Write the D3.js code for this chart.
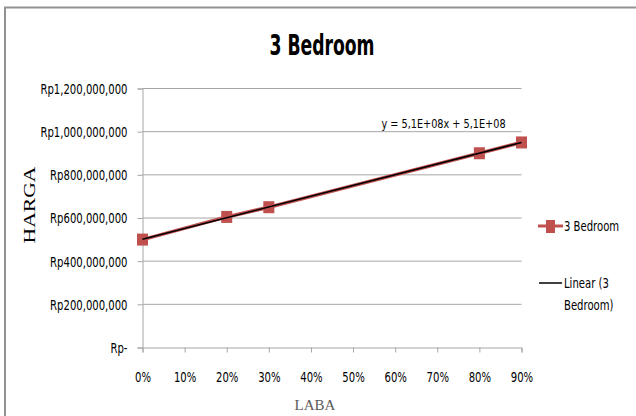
<!DOCTYPE html>
<html><head><meta charset="utf-8">
<script src="https://cdn.jsdelivr.net/npm/d3@7"></script>
<style>
html,body{margin:0;padding:0;background:#fff;}
svg{display:block;}
.cal{font-family:"DejaVu Sans Condensed","DejaVu Sans",sans-serif;font-stretch:condensed;}
</style></head>
<body><svg id="c" width="636" height="416"></svg>
<script>
const title = "3 Bedroom";
const seriesName = "3 Bedroom";
const trendName = ["Linear (3", "Bedroom)"];
const xValues = [0, 0.2, 0.3, 0.8, 0.9];
const yValues = [500000000, 605000000, 650000000, 900000000, 950000000];
const xTicks = [0, 0.1, 0.2, 0.3, 0.4, 0.5, 0.6, 0.7, 0.8, 0.9];
const yTicks = [0, 200000000, 400000000, 600000000, 800000000, 1000000000, 1200000000];
const yTickLabels = ["Rp-", "Rp200,000,000", "Rp400,000,000", "Rp600,000,000", "Rp800,000,000", "Rp1,000,000,000", "Rp1,200,000,000"];
const equationText = "y = 5,1E+08x + 5,1E+08";
const xTitle = "LABA";
const yTitle = "HARGA";

const svg = d3.select("#c");
const red = "#c0504d";
const gridCol = "#a6a6a6";
const sx = 0.83;

// chart frame
svg.append("path").attr("d","M5,416 V7.5 H636").attr("fill","none").attr("stroke","#929292").attr("stroke-width",2);

const x = d3.scaleLinear().domain([0, 0.9]).range([142.5, 521.5]);
const y = d3.scaleLinear().domain([0, 1200000000]).range([347.5, 88.5]);

// gridlines
svg.append("g").selectAll("line").data(yTicks.slice(1)).join("line")
  .attr("x1", x(0)).attr("x2", x(0.9)).attr("y1", d=>y(d)).attr("y2", d=>y(d))
  .attr("stroke", gridCol).attr("stroke-width",1);

// y axis
const yAxis = d3.axisLeft(y).tickValues(yTicks).tickSize(5).tickPadding(10)
  .tickFormat((d,i)=>yTickLabels[i]);
const gy = svg.append("g").attr("transform",`translate(${x(0)},0)`).call(yAxis);
// x axis
const xAxis = d3.axisBottom(x).tickValues(xTicks).tickSize(5).tickPadding(20)
  .tickFormat(d3.format(".0%"));
const gx = svg.append("g").attr("transform",`translate(0,${y(0)})`).call(xAxis);
[gy,gx].forEach(g=>{
  g.select(".domain").attr("stroke",gridCol);
  g.selectAll(".tick line").attr("stroke",gridCol);
  g.selectAll("text").attr("class","cal").attr("font-size",13.5).attr("fill","#000")
    .attr("transform",`scale(${sx},1)`);
});
gy.selectAll("text").attr("x", -15/sx).attr("dy","0.36em");

// series line
const line = d3.line().x((d,i)=>x(xValues[i])).y(d=>y(d));
svg.append("path").datum(yValues).attr("d", line).attr("fill","none").attr("stroke",red).attr("stroke-width",3.5);

// markers
svg.append("g").selectAll("rect").data(yValues).join("rect")
  .attr("x",(d,i)=>x(xValues[i])-5.5).attr("y",d=>y(d)-6).attr("width",11).attr("height",12).attr("fill",red);

// linear trend via least squares
const mx = d3.mean(xValues), my = d3.mean(yValues);
const slope = d3.sum(xValues.map((v,i)=>(v-mx)*(yValues[i]-my))) / d3.sum(xValues.map(v=>(v-mx)*(v-mx)));
const icpt = my - slope*mx;
svg.append("line").attr("x1",x(0)).attr("x2",x(0.9)).attr("y1",y(icpt)).attr("y2",y(icpt+slope*0.9))
  .attr("stroke","#000").attr("stroke-width",1.5);

// helper for condensed text
function ctext(px, py, size, str, anchor, weight){
  return svg.append("text").attr("class","cal").attr("transform",`translate(${px},${py}) scale(${sx},1)`)
    .attr("text-anchor",anchor||"start").attr("font-size",size).attr("font-weight",weight||"normal").text(str);
}

// equation
ctext(443.5, 128, 13, equationText, "middle");

// title
svg.append("text").attr("class","cal").attr("transform","translate(322,55) scale(0.66,1)").attr("text-anchor","middle").attr("font-size",29).attr("font-weight","bold").text(title);

// axis titles
svg.append("text").attr("x",315).attr("y",410).attr("text-anchor","middle").attr("font-family","'Liberation Serif','Times New Roman',serif").attr("font-size",15).attr("fill","#595959").text(xTitle);
svg.append("text").attr("transform","translate(35,205) rotate(-90) scale(1.35,1)").attr("text-anchor","middle").attr("font-family","'Liberation Serif','Times New Roman',serif").attr("font-size",16).attr("fill","#000").text(yTitle);

// legend
const lg = svg.append("g");
lg.append("line").attr("x1",538).attr("x2",563).attr("y1",226).attr("y2",226).attr("stroke",red).attr("stroke-width",3);
lg.append("rect").attr("x",546).attr("y",220).attr("width",9).attr("height",13).attr("fill",red);
lg.append("line").attr("x1",539).attr("x2",562).attr("y1",283).attr("y2",283).attr("stroke","#000").attr("stroke-width",1.5);
ctext(564, 231, 13.5, seriesName);
ctext(564, 288, 13.5, trendName[0]);
ctext(564, 310, 13.5, trendName[1]);
</script></body></html>
